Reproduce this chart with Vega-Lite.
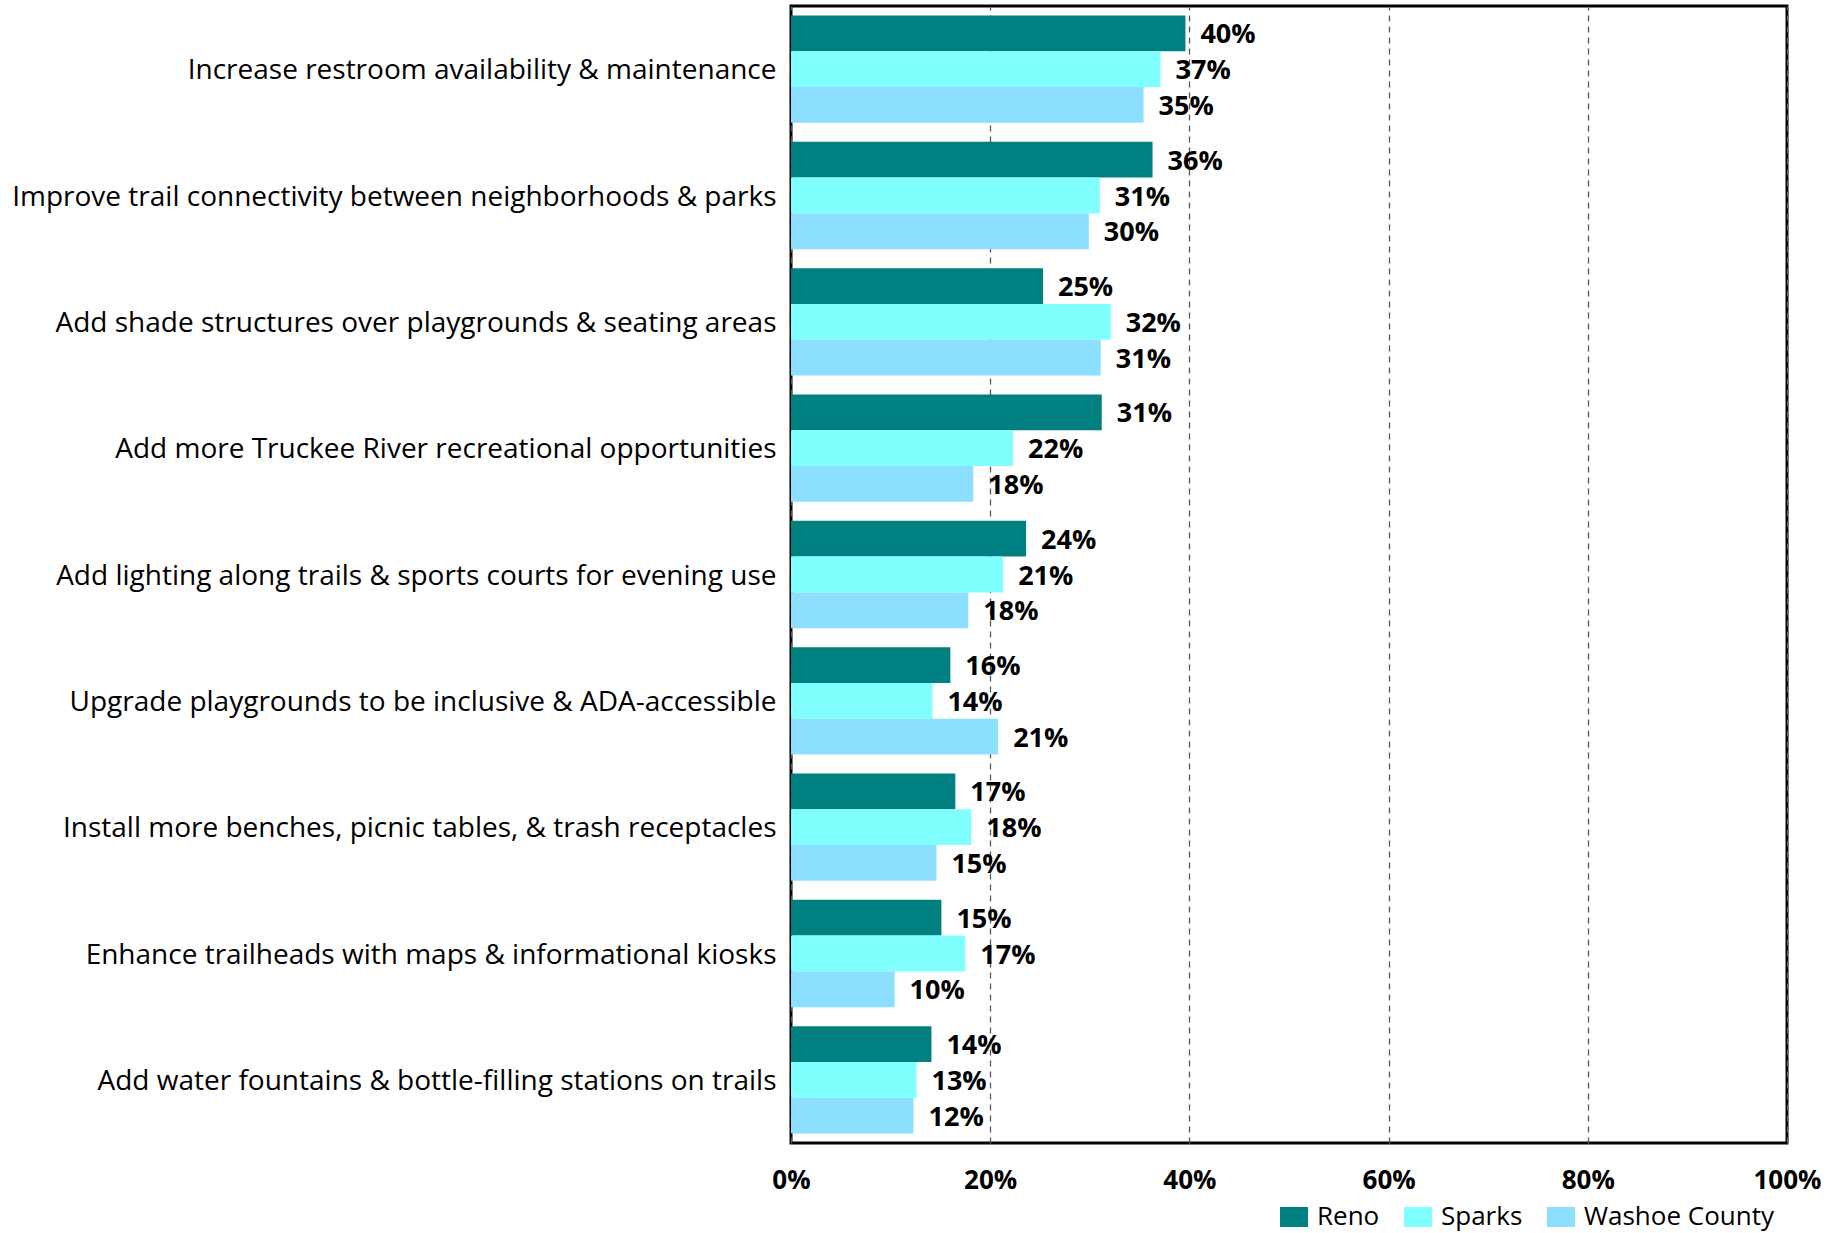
{
  "$schema": "https://vega.github.io/schema/vega-lite/v6.json",
  "autosize": {"type": "none"},
  "width": 996,
  "height": 1137,
  "padding": {"left": 791, "top": 6, "right": 60, "bottom": 90},
  "background": "white",
  "config": {
    "view": {"stroke": "black", "strokeWidth": 3},
    "font": "Open Sans"
  },
  "data": {
    "values": [
      {"item": "Increase restroom availability & maintenance", "group": "Reno", "value": 39.6, "label": "40%"},
      {"item": "Increase restroom availability & maintenance", "group": "Sparks", "value": 37.1, "label": "37%"},
      {"item": "Increase restroom availability & maintenance", "group": "Washoe County", "value": 35.4, "label": "35%"},
      {"item": "Improve trail connectivity between neighborhoods & parks", "group": "Reno", "value": 36.3, "label": "36%"},
      {"item": "Improve trail connectivity between neighborhoods & parks", "group": "Sparks", "value": 31.0, "label": "31%"},
      {"item": "Improve trail connectivity between neighborhoods & parks", "group": "Washoe County", "value": 29.9, "label": "30%"},
      {"item": "Add shade structures over playgrounds & seating areas", "group": "Reno", "value": 25.3, "label": "25%"},
      {"item": "Add shade structures over playgrounds & seating areas", "group": "Sparks", "value": 32.1, "label": "32%"},
      {"item": "Add shade structures over playgrounds & seating areas", "group": "Washoe County", "value": 31.1, "label": "31%"},
      {"item": "Add more Truckee River recreational opportunities", "group": "Reno", "value": 31.2, "label": "31%"},
      {"item": "Add more Truckee River recreational opportunities", "group": "Sparks", "value": 22.3, "label": "22%"},
      {"item": "Add more Truckee River recreational opportunities", "group": "Washoe County", "value": 18.3, "label": "18%"},
      {"item": "Add lighting along trails & sports courts for evening use", "group": "Reno", "value": 23.6, "label": "24%"},
      {"item": "Add lighting along trails & sports courts for evening use", "group": "Sparks", "value": 21.3, "label": "21%"},
      {"item": "Add lighting along trails & sports courts for evening use", "group": "Washoe County", "value": 17.8, "label": "18%"},
      {"item": "Upgrade playgrounds to be inclusive & ADA-accessible", "group": "Reno", "value": 16.0, "label": "16%"},
      {"item": "Upgrade playgrounds to be inclusive & ADA-accessible", "group": "Sparks", "value": 14.2, "label": "14%"},
      {"item": "Upgrade playgrounds to be inclusive & ADA-accessible", "group": "Washoe County", "value": 20.8, "label": "21%"},
      {"item": "Install more benches, picnic tables, & trash receptacles", "group": "Reno", "value": 16.5, "label": "17%"},
      {"item": "Install more benches, picnic tables, & trash receptacles", "group": "Sparks", "value": 18.1, "label": "18%"},
      {"item": "Install more benches, picnic tables, & trash receptacles", "group": "Washoe County", "value": 14.6, "label": "15%"},
      {"item": "Enhance trailheads with maps & informational kiosks", "group": "Reno", "value": 15.1, "label": "15%"},
      {"item": "Enhance trailheads with maps & informational kiosks", "group": "Sparks", "value": 17.5, "label": "17%"},
      {"item": "Enhance trailheads with maps & informational kiosks", "group": "Washoe County", "value": 10.4, "label": "10%"},
      {"item": "Add water fountains & bottle-filling stations on trails", "group": "Reno", "value": 14.1, "label": "14%"},
      {"item": "Add water fountains & bottle-filling stations on trails", "group": "Sparks", "value": 12.6, "label": "13%"},
      {"item": "Add water fountains & bottle-filling stations on trails", "group": "Washoe County", "value": 12.3, "label": "12%"}
    ]
  },
  "encoding": {
    "y": {
      "field": "item",
      "type": "nominal",
      "sort": null,
      "scale": {"paddingInner": 0.15, "paddingOuter": 0.075},
      "axis": {
        "title": null,
        "domain": false,
        "ticks": false,
        "labelFontSize": 28,
        "labelColor": "black",
        "labelPadding": 15,
        "labelOffset": 2,
        "labelLimit": 900
      }
    },
    "yOffset": {
      "field": "group",
      "type": "nominal",
      "sort": ["Reno", "Sparks", "Washoe County"],
      "scale": {"paddingInner": 0, "paddingOuter": 0}
    },
    "x": {
      "field": "value",
      "type": "quantitative",
      "scale": {"domain": [0, 100], "nice": false},
      "axis": {
        "title": null,
        "values": [0, 20, 40, 60, 80, 100],
        "labelExpr": "datum.value + '%'",
        "labelFontSize": 26,
        "labelFontWeight": "bold",
        "labelColor": "black",
        "labelPadding": 24,
        "ticks": false,
        "domain": false,
        "grid": true,
        "gridColor": "#595959",
        "gridDash": [6, 5],
        "gridWidth": 1.3,
        "labelFlush": false
      }
    }
  },
  "layer": [
    {
      "mark": {"type": "bar"},
      "encoding": {
        "color": {
          "field": "group",
          "type": "nominal",
          "sort": ["Reno", "Sparks", "Washoe County"],
          "scale": {"domain": ["Reno", "Sparks", "Washoe County"], "range": ["#008080", "#80FFFF", "#8CDFFF"]},
          "legend": {
            "title": null,
            "orient": "none",
            "direction": "horizontal",
            "legendX": 490,
            "legendY": 1198,
            "symbolType": "M-1.4,-1H1.4V1H-1.4Z",
            "symbolSize": 400,
            "symbolStrokeWidth": 0,
            "labelFontSize": 26,
            "labelColor": "black",
            "labelOffset": 10,
            "labelLimit": 400,
            "columnPadding": 24
          }
        }
      }
    },
    {
      "mark": {"type": "text", "align": "left", "baseline": "middle", "dx": 15, "dy": 2, "fontSize": 27, "fontWeight": "bold", "color": "black"},
      "encoding": {
        "text": {"field": "label"}
      }
    }
  ]
}
